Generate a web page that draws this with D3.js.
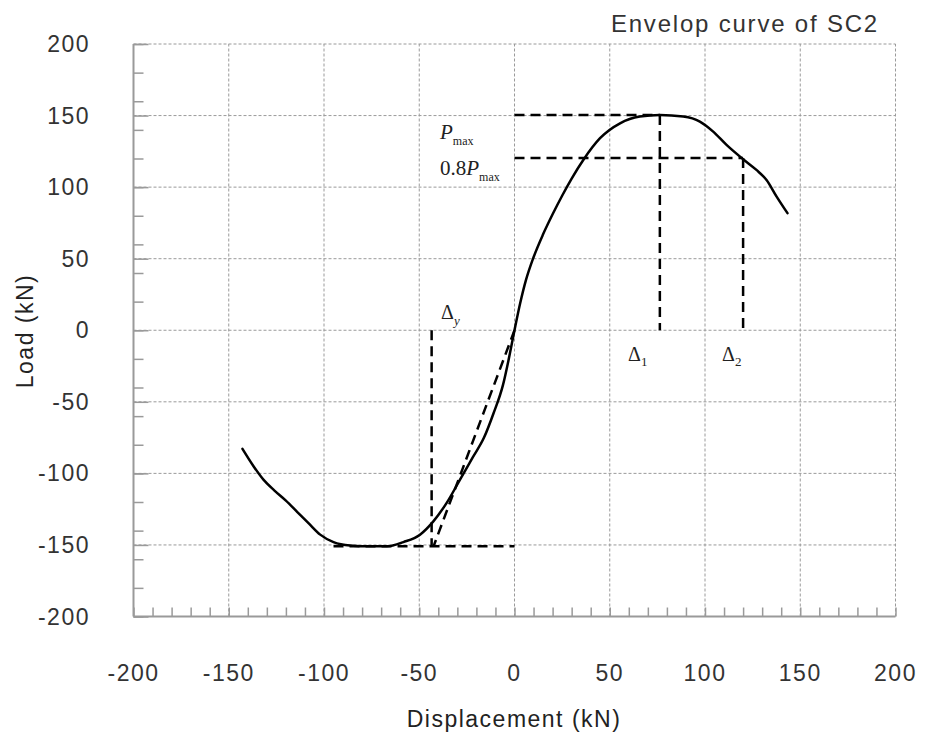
<!DOCTYPE html>
<html>
<head>
<meta charset="utf-8">
<script src="https://cdn.jsdelivr.net/npm/d3@7"></script>
<style>
  html, body { margin: 0; padding: 0; background: #fff; }
  svg { display: block; }
</style>
</head>
<body>
<svg id="chart" width="925" height="742"></svg>
<script>
// Envelope curve of specimen SC2: displacement vs. load
const displacement = [-142.8, -137, -131.8, -126, -120, -114, -108, -102, -95, -86.3, -75.8, -67,
  -58.3, -49.6, -42.6, -35.6, -28.6, -22, -16, -11, -6, -3, 0, 3, 6, 10,
  15, 20, 25, 30, 36.1, 44.9, 55.4, 65.8, 76.3, 88.6, 97.3, 104.3, 111.3, 120, 127, 132.3, 137.6, 143.3];
const load = [-82.9, -95, -104.4, -112, -119, -127, -135, -142.8, -148, -150.4, -151, -151,
  -148, -142.8, -133.5, -120.6, -104.4, -89, -75, -58, -38, -20, 0, 19, 35, 51,
  67, 81, 94, 106, 119, 134.2, 144.6, 149.3, 150.4, 149.3, 145.8, 138.8, 129.5, 119.5, 112, 105, 93.4, 81.8];

// Characteristic values
const pMax = 150.4;
const pMin = -151;
const delta1 = 76.3;
const delta2 = 120;
const deltaY = -43.5;
const secantEnd = [-42.5, -151];
const negPlateauStart = -95;

// Axis ticks
const majorTicks = [-200, -150, -100, -50, 0, 50, 100, 150, 200];
const xMinorTicks = d3.range(-200, 201, 10);
const yMinorTicks = d3.range(-200, 201, 20);

const svg = d3.select("#chart");
const x = d3.scaleLinear().domain([-200, 200]).range([133.5, 895.5]);
const y = d3.scaleLinear().domain([-200, 200]).range([616.5, 44]);

const gridColor = "#9a9a9a";
const axisColor = "#9a9a9a";
const labelFont = "'Liberation Sans', Arial, sans-serif";
const serif = "'Liberation Serif', 'Times New Roman', serif";

// Dashed grid
const grid = svg.append("g");
grid.selectAll("line.gx").data(majorTicks.filter(d => d > -200)).join("line")
  .attr("x1", d => x(d)).attr("x2", d => x(d))
  .attr("y1", y(-200)).attr("y2", y(200))
  .attr("stroke", gridColor).attr("stroke-width", 1).attr("stroke-dasharray", "3,2");
grid.selectAll("line.gy").data(majorTicks.filter(d => d > -200)).join("line")
  .attr("x1", x(-200)).attr("x2", x(200))
  .attr("y1", d => y(d)).attr("y2", d => y(d))
  .attr("stroke", gridColor).attr("stroke-width", 1).attr("stroke-dasharray", "3,2");

// Left axis with inward ticks
const yAxisMinor = d3.axisRight(y).tickValues(yMinorTicks).tickSize(10).tickFormat("");
const yAxisMajor = d3.axisRight(y).tickValues(majorTicks).tickSize(15).tickFormat("");
[yAxisMinor, yAxisMajor].forEach(ax => {
  const g = svg.append("g").attr("transform", `translate(${x(-200)},0)`).call(ax);
  g.select(".domain").remove();
  g.selectAll("line").attr("stroke", axisColor).attr("stroke-width", 1.5);
});
svg.append("line").attr("x1", x(-200)).attr("x2", x(-200)).attr("y1", y(200)).attr("y2", y(-200))
  .attr("stroke", axisColor).attr("stroke-width", 2);

// Bottom axis with inward ticks
const xAxisMinor = d3.axisTop(x).tickValues(xMinorTicks).tickSize(9).tickFormat("");
const gx = svg.append("g").attr("transform", `translate(0,${y(-200)})`).call(xAxisMinor);
gx.select(".domain").remove();
gx.selectAll("line").attr("stroke", axisColor).attr("stroke-width", 1.5);
svg.append("line").attr("x1", x(-200)).attr("x2", x(200)).attr("y1", y(-200)).attr("y2", y(-200))
  .attr("stroke", axisColor).attr("stroke-width", 2);

// Tick labels
svg.append("g").selectAll("text").data(majorTicks).join("text")
  .attr("x", 90).attr("y", d => y(d) + 8)
  .attr("text-anchor", "end")
  .attr("font-family", labelFont).attr("font-size", 23).attr("letter-spacing", 1.5)
  .attr("fill", "#333").text(d => d);
svg.append("g").selectAll("text").data(majorTicks).join("text")
  .attr("x", d => x(d)).attr("y", 681)
  .attr("text-anchor", "middle")
  .attr("font-family", labelFont).attr("font-size", 23).attr("letter-spacing", 1.5)
  .attr("fill", "#333").text(d => d);

// Axis titles and caption
svg.append("text").attr("x", 514).attr("y", 727).attr("text-anchor", "middle")
  .attr("font-family", labelFont).attr("font-size", 23).attr("letter-spacing", 1.5)
  .attr("fill", "#222").text("Displacement (kN)");
svg.append("text").attr("transform", "translate(33,331) rotate(-90)").attr("text-anchor", "middle")
  .attr("font-family", labelFont).attr("font-size", 23).attr("letter-spacing", 1.5)
  .attr("fill", "#222").text("Load (kN)");
svg.append("text").attr("x", 879).attr("y", 32).attr("text-anchor", "end")
  .attr("font-family", labelFont).attr("font-size", 24).attr("letter-spacing", 1.8)
  .attr("fill", "#333").text("Envelop curve of SC2");

// Dashed reference lines
const refLines = [
  [[0, pMax], [delta1, pMax]],
  [[0, 0.8 * pMax], [delta2, 0.8 * pMax]],
  [[delta1, pMax], [delta1, 0]],
  [[delta2, 0.8 * pMax], [delta2, 0]],
  [[negPlateauStart, pMin], [0, pMin]],
  [[deltaY, 0], [deltaY, pMin]],
  [[0, 0], secantEnd]
];
const seg = d3.line().x(d => x(d[0])).y(d => y(d[1]));
svg.append("g").selectAll("path").data(refLines).join("path")
  .attr("d", seg).attr("fill", "none")
  .attr("stroke", "#000").attr("stroke-width", 2.5).attr("stroke-dasharray", "10,6");

// Envelope curve
const pts = displacement.map((d, i) => [d, load[i]]);
const curve = d3.line().x(d => x(d[0])).y(d => y(d[1])).curve(d3.curveMonotoneX);
svg.append("path").datum(pts).attr("d", curve)
  .attr("fill", "none").attr("stroke", "#000").attr("stroke-width", 2.5)
  .attr("stroke-linejoin", "round").attr("stroke-linecap", "round");

// Annotation labels
const ann = svg.append("g").attr("font-family", serif).attr("fill", "#222");
function subLabel(xp, yp, parts) {
  const t = ann.append("text").attr("x", xp).attr("y", yp);
  parts.forEach(p => {
    const s = t.append("tspan").text(p.t).attr("font-size", p.size);
    if (p.italic) s.attr("font-style", "italic");
    if (p.dy) s.attr("dy", p.dy);
  });
  return t;
}
subLabel(440, 139, [{t: "P", size: 21, italic: true}, {t: "max", size: 12, dy: 6}]);
subLabel(440, 175, [{t: "0.8", size: 21}, {t: "P", size: 21, italic: true}, {t: "max", size: 12, dy: 6}]);
subLabel(441, 319, [{t: "\u0394", size: 20}, {t: "y", size: 13, italic: true, dy: 6}]);
subLabel(628, 361, [{t: "\u0394", size: 20}, {t: "1", size: 13, dy: 5}]);
subLabel(722, 361, [{t: "\u0394", size: 20}, {t: "2", size: 13, dy: 5}]);
</script>
</body>
</html>
